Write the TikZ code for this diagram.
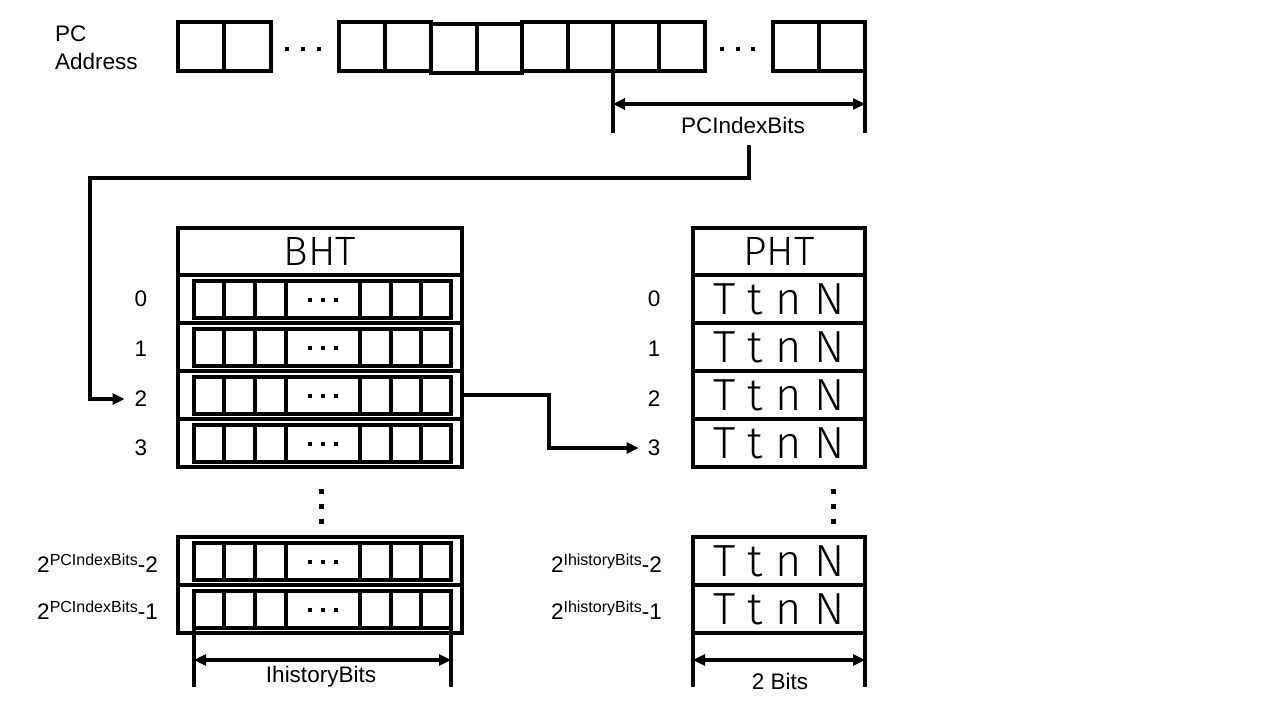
\documentclass[tikz,border=0pt]{standalone}
\usepackage{fontspec}
\setmainfont{Liberation Sans}
\newfontfamily\thinfont{Fira Sans Light}
\usetikzlibrary{arrows.meta}
\tikzset{
  ln/.style={line width=3.5pt},
  box/.style={draw, line width=3.5pt, inner sep=0pt, outer sep=0pt},
  lab/.style={font=\fontsize{22.5}{24}\selectfont, inner sep=0pt},
  head/.style={font=\thinfont\fontsize{41}{44}\selectfont},
  ttnn/.style={font=\thinfont\fontsize{45}{48}\selectfont},
  arr/.style={line width=3.5pt, -{Triangle[length=12pt,width=11pt]}},
  dimline/.style={line width=3.5pt, {Triangle[length=12pt,width=11pt]}-{Triangle[length=12pt,width=11pt]}},
  sqdot/.style={fill, minimum size=4.5pt, inner sep=0pt, outer sep=0pt},
}
\newcommand\histcells[1]{%
  \draw[ln] (194,#1+6) rectangle (451,#1+43);
  \foreach \x in {224,255,286,360,391,421} \draw[ln] (\x,#1+6) -- (\x,#1+43);
  \foreach \x in {310,323,336} \node[sqdot, minimum size=4pt] at (\x,#1+25) {};
}
\newcommand\supl[1]{\raisebox{7.5pt}{\fontsize{16}{16}\selectfont #1}}
\begin{document}
\begin{tikzpicture}[x=1pt,y=-1pt]
\useasboundingbox (0,0) rectangle (1280,720);
% ---------- PC address ----------
\node[lab, align=left, anchor=west, font=\fontsize{22.5}{28}\selectfont] (pclab) at (55,48) {PC\\Address};
\foreach \a/\b/\m in {178/271/224, 339/431/385, 522/613/568, 613/705/659, 773/865/819} {
  \draw[ln] (\a,22) rectangle (\b,71);
  \draw[ln] (\m,22) -- (\m,71);
}
\draw[ln] (431,24) rectangle (522,73);
\draw[ln] (477,24) -- (477,73);
\foreach \x in {287,303,319,722,738,753} \node[sqdot] at (\x,49) {};
\draw[ln] (613,71) -- (613,133);
\draw[ln] (865,71) -- (865,133);
\draw[dimline] (613,104) -- (865,104);
\node[lab] (pcidx) at (743,125) {PCIndexBits};
% ---------- BHT ----------
\node[box, head, minimum width=284pt, minimum height=47pt] (bht) at (320,251.5) {BHT};
\foreach \i/\t in {0/275,1/323,2/371,3/419} {
  \node[box, minimum width=284pt, minimum height=48pt] (brow\i) at (320,\t+24) {};
  \histcells{\t}
}
\foreach \i/\y in {0/299,1/349,2/399,3/448} \node[lab] (bl\i) at (141,\y) {\i};
\foreach \y in {491,506,521} \node[sqdot, minimum size=5pt] at (321,\y) {};
\foreach \i/\t in {4/537,5/585} {
  \node[box, minimum width=284pt, minimum height=48pt] (brow\i) at (320,\t+24) {};
  \histcells{\t}
}
\node[lab, anchor=east] (bl4) at (158,563) {2\supl{PCIndexBits}-2};
\node[lab, anchor=east] (bl5) at (158,610) {2\supl{PCIndexBits}-1};
\draw[ln] (194,628) -- (194,687);
\draw[ln] (451,628) -- (451,687);
\draw[dimline] (194,660) -- (451,660);
\node[lab] (ihb) at (321,677) {IhistoryBits};
% ---------- PHT ----------
\node[box, head, minimum width=172pt, minimum height=47pt] (pht) at (779,251.5) {PHT};
\foreach \i/\t in {0/275,1/323,2/371,3/419} {
  \node[box, ttnn, minimum width=172pt, minimum height=48pt] (prow\i) at (779,\t+24) {T t n N};
}
\foreach \i/\y in {0/299,1/349,2/399,3/448} \node[lab] (pl\i) at (654,\y) {\i};
\foreach \y in {491,506,521} \node[sqdot, minimum size=5pt] at (833,\y) {};
\foreach \i/\t in {4/537,5/585} {
  \node[box, ttnn, minimum width=172pt, minimum height=48pt] (prow\i) at (779,\t+24) {T t n N};
}
\node[lab, anchor=east] (pl4) at (662,563) {2\supl{IhistoryBits}-2};
\node[lab, anchor=east] (pl5) at (662,610) {2\supl{IhistoryBits}-1};
\draw[ln] (693,633) -- (693,687);
\draw[ln] (865,633) -- (865,687);
\draw[dimline] (693,660) -- (865,660);
\node[lab] (twob) at (780,681) {2 Bits};
% ---------- connectors ----------
\coordinate (c0) at (749,145);
\draw[arr] (c0) -- (749,178) -- (90,178) |- ([xshift=-10pt]bl2.west);
\draw[arr] (brow2.east) -- (549,395) |- ([xshift=-9pt]pl3.west);
\end{tikzpicture}
\end{document}
